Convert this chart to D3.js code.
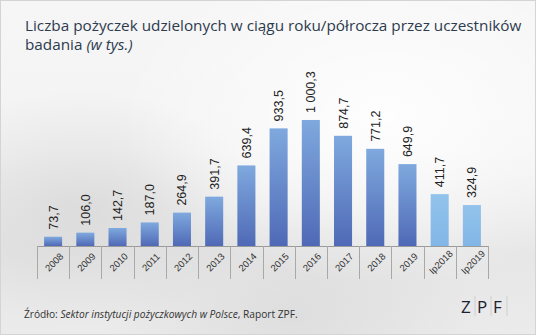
<!DOCTYPE html>
<html>
<head>
<meta charset="utf-8">
<script src="https://cdn.jsdelivr.net/npm/d3@7"></script>
<style>
  html, body { margin: 0; padding: 0; background: #fff; }
  svg { display: block; }
</style>
</head>
<body>
<svg id="chart" width="536" height="335"></svg>
<script>
// Loans granted by survey participants per year / half-year (thousands)
const categories = ["2008","2009","2010","2011","2012","2013","2014","2015","2016","2017","2018","2019","Ip2018","Ip2019"];
const values = [73.7, 106.0, 142.7, 187.0, 264.9, 391.7, 639.4, 933.5, 1000.3, 874.7, 771.2, 649.9, 411.7, 324.9];
const valueLabels = ["73,7","106,0","142,7","187,0","264,9","391,7","639,4","933,5","1 000,3","874,7","771,2","649,9","411,7","324,9"];
const halfYear = [false,false,false,false,false,false,false,false,false,false,false,false,true,true];

const W = 536, H = 335;
const svg = d3.select("#chart");
const defs = svg.append("defs");

// backdrop: pale paper tones
const bg = defs.append("linearGradient").attr("id","bg").attr("x1",0).attr("y1",0).attr("x2",0).attr("y2",1);
bg.append("stop").attr("offset","0%").attr("stop-color","#f6f6f6");
bg.append("stop").attr("offset","45%").attr("stop-color","#f3f3f3");
bg.append("stop").attr("offset","75%").attr("stop-color","#e6e6e6");
bg.append("stop").attr("offset","100%").attr("stop-color","#ebebeb");
const glow = defs.append("radialGradient").attr("id","glow").attr("cx","0.72").attr("cy","0.35").attr("r","0.5");
glow.append("stop").attr("offset","0%").attr("stop-color","#ffffff").attr("stop-opacity",0.9);
glow.append("stop").attr("offset","100%").attr("stop-color","#ffffff").attr("stop-opacity",0);
const shade = defs.append("radialGradient").attr("id","shade").attr("cx","0.15").attr("cy","0.62").attr("r","0.35");
shade.append("stop").attr("offset","0%").attr("stop-color","#cfcfcf").attr("stop-opacity",0.55);
shade.append("stop").attr("offset","100%").attr("stop-color","#cfcfcf").attr("stop-opacity",0);
const shade2 = defs.append("radialGradient").attr("id","shade2").attr("cx","0.55").attr("cy","0.95").attr("r","0.35");
shade2.append("stop").attr("offset","0%").attr("stop-color","#d2d2d2").attr("stop-opacity",0.5);
shade2.append("stop").attr("offset","100%").attr("stop-color","#d2d2d2").attr("stop-opacity",0);

svg.append("rect").attr("width",W).attr("height",H).attr("fill","url(#bg)");
svg.append("rect").attr("width",W).attr("height",H).attr("fill","url(#shade)");
svg.append("rect").attr("width",W).attr("height",H).attr("fill","url(#shade2)");
svg.append("rect").attr("width",W).attr("height",H).attr("fill","url(#glow)");

svg.append("rect").attr("x",0.5).attr("y",0.5).attr("width",W-1).attr("height",H-1)
  .attr("fill","none").attr("stroke","#d4d4d4");

// bar fills
const gYear = defs.append("linearGradient").attr("id","gYear").attr("x1",0).attr("y1",0).attr("x2",0).attr("y2",1);
gYear.append("stop").attr("offset","0%").attr("stop-color","#7fa9de");
gYear.append("stop").attr("offset","100%").attr("stop-color","#4f69b6");
const gHalf = defs.append("linearGradient").attr("id","gHalf").attr("x1",0).attr("y1",0).attr("x2",0).attr("y2",1);
gHalf.append("stop").attr("offset","0%").attr("stop-color","#92c3ec");
gHalf.append("stop").attr("offset","100%").attr("stop-color","#82b6e6");

// title
const title = svg.append("text").attr("x",25).attr("font-family","Open Sans, sans-serif")
  .attr("font-size",15.3).attr("fill","#2d3b4e");
title.append("tspan").attr("x",25).attr("y",31).text("Liczba pożyczek udzielonych w ciągu roku/półrocza przez uczestników");
const t2 = title.append("tspan").attr("x",25).attr("y",50);
t2.append("tspan").text("badania ");
t2.append("tspan").attr("font-style","italic").text("(w tys.)");

// scales
const baseY = 246, axisBottom = 279;
const cell = d3.scaleBand().domain(categories).range([37, 488]);
const x = d3.scaleBand().domain(categories).range([37, 488]).paddingInner(0.44).paddingOuter(0.22);
const y = d3.scaleLinear().domain([0, 1000]).range([baseY, baseY - 126]);

// category cells
const axisG = svg.append("g");
axisG.append("line").attr("x1",cell.range()[0]).attr("x2",cell.range()[1])
  .attr("y1",baseY+0.5).attr("y2",baseY+0.5).attr("stroke","#9a9a9a");
const edges = categories.map(c => cell(c)).concat([cell.range()[1]]);
axisG.selectAll("line.sep").data(edges).join("line").attr("class","sep")
  .attr("x1",d=>Math.round(d)+0.5).attr("x2",d=>Math.round(d)+0.5)
  .attr("y1",baseY).attr("y2",axisBottom).attr("stroke","#a8a8a8");
axisG.selectAll("text.cat").data(categories).join("text").attr("class","cat")
  .attr("transform", d => `translate(${cell(d)+cell.bandwidth()/2+1},${baseY+16}) rotate(-45)`)
  .attr("text-anchor","middle").attr("dominant-baseline","central")
  .attr("font-family","Liberation Sans, Arial, sans-serif").attr("font-size",9.5).attr("fill","#333")
  .text(d=>d);

// bars
svg.selectAll("rect.bar").data(categories).join("rect").attr("class","bar")
  .attr("x", d => x(d)).attr("width", x.bandwidth())
  .attr("y", (d,i) => y(values[i])).attr("height", (d,i) => baseY - y(values[i]))
  .attr("fill", (d,i) => halfYear[i] ? "url(#gHalf)" : "url(#gYear)");

// value labels
svg.selectAll("text.val").data(categories).join("text").attr("class","val")
  .attr("transform", (d,i) => `translate(${x(d)+x.bandwidth()/2+4.5},${y(values[i]) - 7}) rotate(-90)`)
  .attr("text-anchor","start")
  .attr("font-family","Liberation Sans, Arial, sans-serif").attr("font-size",12.5).attr("fill","#222")
  .text((d,i) => valueLabels[i]);

// source
const src = svg.append("text").attr("x",24).attr("y",318)
  .attr("font-family","Open Sans, sans-serif").attr("font-size",10.2).attr("fill","#333");
src.append("tspan").text("Źródło: ");
src.append("tspan").attr("font-style","italic").text("Sektor instytucji pożyczkowych w Polsce");
src.append("tspan").text(", Raport ZPF.");

// logo
const logo = svg.append("g").attr("transform","translate(461,313)");
const letters = ["Z","P","F"];
logo.selectAll("text").data(letters).join("text")
  .attr("x",(d,i)=> i*16).attr("y",0)
  .attr("font-family","Open Sans, sans-serif").attr("font-size",17).attr("fill","#1c2030")
  .text(d=>d);
logo.selectAll("line").data([14, 30, 46]).join("line")
  .attr("x1",d=>d).attr("x2",d=>d).attr("y1",-17).attr("y2",3)
  .attr("stroke","#c8c8c8").attr("stroke-width",0.8);
</script>
</body>
</html>
